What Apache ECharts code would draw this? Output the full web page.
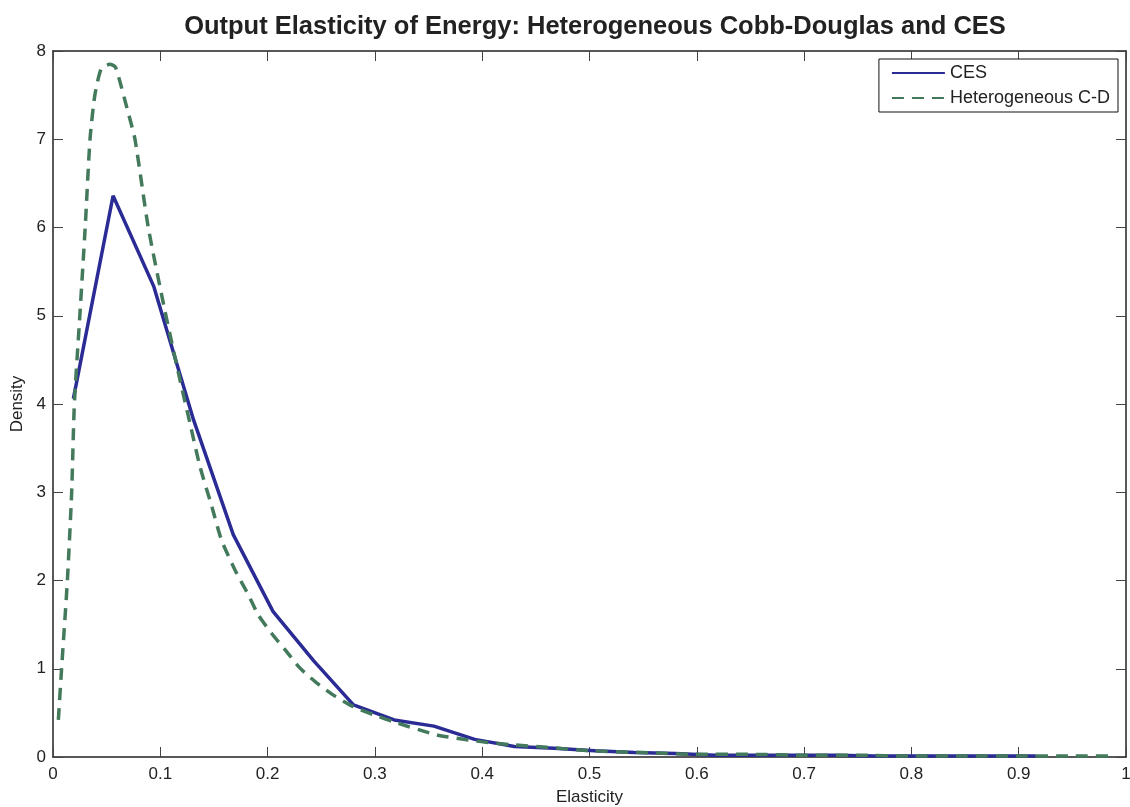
<!DOCTYPE html>
<html>
<head>
<meta charset="utf-8">
<script src="https://cdn.jsdelivr.net/npm/echarts@6/dist/echarts.min.js"></script>
<style>
  html, body { margin: 0; padding: 0; background: #fff; }
  #chart { width: 1130px; height: 807px; }
</style>
</head>
<body>
<div id="chart"></div>
<script>
// CES density
const cesX = [0.019, 0.056, 0.094, 0.131, 0.168, 0.205, 0.243, 0.280, 0.318, 0.355, 0.393, 0.430, 0.467,
              0.505, 0.542, 0.580, 0.617, 0.654, 0.692, 0.729, 0.766, 0.804, 0.841, 0.878, 0.916];
const cesY = [4.06, 6.36, 5.33, 3.82, 2.52, 1.65, 1.09, 0.59, 0.42, 0.35, 0.20, 0.12, 0.10,
              0.07, 0.05, 0.04, 0.02, 0.02, 0.02, 0.02, 0.01, 0.01, 0.01, 0.01, 0.01];

// Heterogeneous Cobb-Douglas density
const cdX = [0.005, 0.008, 0.0134, 0.0174, 0.0199, 0.025, 0.030, 0.0345, 0.039, 0.045, 0.053, 0.058, 0.062,
             0.069, 0.0764, 0.0888, 0.1044, 0.1184, 0.1277, 0.137, 0.148, 0.157, 0.1696, 0.182, 0.1913,
             0.2038, 0.216, 0.230, 0.2457, 0.2628, 0.280, 0.2986, 0.317, 0.358, 0.395, 0.426, 0.46,
             0.5, 0.55, 0.6, 0.65, 0.7, 0.75, 0.8, 0.85, 0.9, 0.95, 0.99];
const cdY = [0.42, 1, 2, 3, 4, 5, 6, 7, 7.5, 7.8, 7.85, 7.82, 7.67,
             7.35, 7, 6, 5.05, 4.27, 3.78, 3.29, 2.84, 2.46, 2.12, 1.84, 1.61,
             1.40, 1.22, 1.01, 0.84, 0.69, 0.57, 0.48, 0.40, 0.25, 0.18, 0.14, 0.11,
             0.07, 0.05, 0.03, 0.03, 0.02, 0.02, 0.01, 0.01, 0.01, 0.01, 0.01];

const font = 'Liberation Sans, Arial, Helvetica, sans-serif';
const zip = (xs, ys) => xs.map((x, i) => [x, ys[i]]);

// box axes: bottom/left carry labels, top/right only ticks
const boxLine = { show: true, onZero: false, lineStyle: { color: '#222', width: 1.5 } };
const boxTick = { show: true, inside: true, length: 10, lineStyle: { color: '#444' } };

let myChart = echarts.init(document.getElementById('chart'));
myChart.setOption({
    animation: false,
    title: {
        text: 'Output Elasticity of Energy: Heterogeneous Cobb-Douglas and CES',
        left: 590,
        textAlign: 'center',
        top: 9,
        textStyle: { fontFamily: font, fontSize: 25.5, fontWeight: 'bold', color: '#222' }
    },
    legend: {
        orient: 'vertical',
        right: 12,
        top: 59,
        backgroundColor: '#fff',
        borderColor: '#111',
        borderWidth: 1,
        padding: [5, 8, 5, 12],
        itemGap: 7,
        itemWidth: 53,
        itemHeight: 18,
        itemStyle: { opacity: 0 },
        textStyle: { fontFamily: font, fontSize: 18, color: '#222' },
        data: ['CES', 'Heterogeneous C-D']
    },
    grid: { left: 53, right: 4, top: 51, bottom: 50, outerBoundsMode: 'none' },
    xAxis: [{
        type: 'value',
        min: 0, max: 1, interval: 0.1,
        name: 'Elasticity',
        nameLocation: 'middle',
        nameGap: 32,
        nameTextStyle: { fontFamily: font, fontSize: 17, color: '#222' },
        axisLine: boxLine,
        axisTick: boxTick,
        axisLabel: {
            fontFamily: font, fontSize: 17, color: '#222', margin: 9,
            formatter: v => String(Math.round(v * 10) / 10)
        },
        splitLine: { show: false }
    }, {
        type: 'value',
        position: 'top',
        min: 0, max: 1, interval: 0.1,
        axisLine: boxLine,
        axisTick: boxTick,
        axisLabel: { show: false },
        splitLine: { show: false }
    }],
    yAxis: [{
        type: 'value',
        min: 0, max: 8, interval: 1,
        name: 'Density',
        nameLocation: 'middle',
        nameGap: 27,
        nameTextStyle: { fontFamily: font, fontSize: 17, color: '#222' },
        axisLine: boxLine,
        axisTick: boxTick,
        axisLabel: { fontFamily: font, fontSize: 17, color: '#222', margin: 7 },
        splitLine: { show: false }
    }, {
        type: 'value',
        position: 'right',
        min: 0, max: 8, interval: 1,
        axisLine: boxLine,
        axisTick: boxTick,
        axisLabel: { show: false },
        splitLine: { show: false }
    }],
    series: [
        {
            name: 'CES',
            type: 'line',
            symbol: 'none',
            lineStyle: { color: '#2b2b96', width: 3.5 },
            itemStyle: { color: '#2b2b96' },
            data: zip(cesX, cesY)
        },
        {
            name: 'Heterogeneous C-D',
            type: 'line',
            symbol: 'none',
            smooth: 0.2,
            lineStyle: { color: '#437a5c', width: 3.5, type: [12, 8] },
            itemStyle: { color: '#437a5c' },
            data: zip(cdX, cdY)
        }
    ]
});
</script>
</body>
</html>
